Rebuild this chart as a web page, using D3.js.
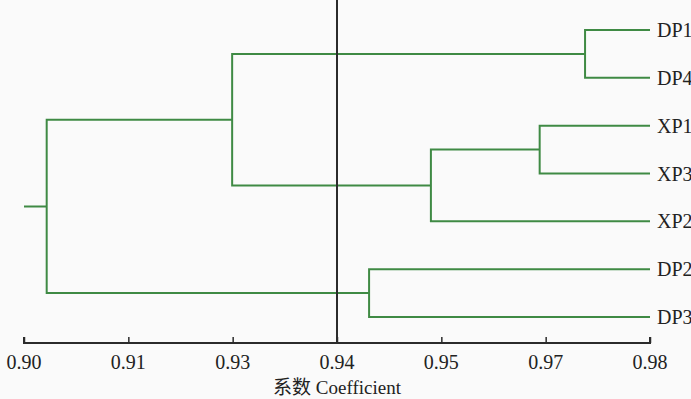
<!DOCTYPE html>
<html>
<head>
<meta charset="utf-8">
<script src="https://cdn.jsdelivr.net/npm/d3@7"></script>
<style>
  html, body { margin: 0; padding: 0; background: #fafafa; }
  svg { display: block; }
  text { font-family: "Liberation Serif", "DejaVu Serif", "Times New Roman", "Noto Sans CJK SC", serif; fill: #222; }
</style>
</head>
<body>
<div class="chart"></div>
<script>
// leaf order top to bottom
const leaves = ['DP1', 'DP4', 'XP1', 'XP3', 'XP2', 'DP2', 'DP3'];
// merges: [left, right, similarity coefficient, name]
const merges = [
  ['DP1', 'DP4', 0.9717, 'a'],
  ['XP1', 'XP3', 0.9659, 'b'],
  ['b', 'XP2', 0.952, 'c'],
  ['a', 'c', 0.9266, 'd'],
  ['DP2', 'DP3', 0.9441, 'e'],
  ['d', 'e', 0.9029, 'root']
];
const tickValues = d3.range(7).map((i) => 0.9 + i * 0.08 / 6);
const cutLine = 0.94;
const axisTitle = '系数 Coefficient';

const width = 691;
const height = 399;
const green = '#3f8a44';
const dark = '#2b2b2b';

const svg = d3
  .select('.chart')
  .append('svg')
  .attr('width', width)
  .attr('height', height);

const x = d3.scaleLinear().domain([0.9, 0.98]).range([24, 650]);
const y = d3.scalePoint().domain(leaves).range([30, 317]);

// build nodes
const nodes = {};
leaves.forEach((l) => { nodes[l] = { name: l, value: 0.98, y: y(l) }; });
merges.forEach(([a, b, v, n]) => {
  nodes[n] = { name: n, value: v, children: [nodes[a], nodes[b]] };
  nodes[n].y = (nodes[a].y + nodes[b].y) / 2;
});

const path = d3.path();
merges.forEach(([a, b, v, n]) => {
  const node = nodes[n];
  node.children.forEach((c) => {
    path.moveTo(x(v), node.y);
    path.lineTo(x(v), c.y);
    path.lineTo(x(c.value), c.y);
  });
});
// root stub
path.moveTo(x(0.9), nodes.root.y);
path.lineTo(x(nodes.root.value), nodes.root.y);

svg.append('path')
  .attr('d', path.toString())
  .attr('fill', 'none')
  .attr('stroke', green)
  .attr('stroke-width', 2);

// cut line
svg.append('line')
  .attr('x1', x(cutLine)).attr('x2', x(cutLine))
  .attr('y1', 0).attr('y2', 343)
  .attr('stroke', dark)
  .attr('stroke-width', 2);

// leaf labels
svg.selectAll('text.leaf')
  .data(leaves)
  .enter()
  .append('text')
  .attr('class', 'leaf')
  .attr('x', 657)
  .attr('y', (d) => y(d) + 7)
  .attr('font-size', '20px')
  .text((d) => d);

// axis
const axis = svg.append('g')
  .attr('transform', 'translate(0,343)')
  .call(d3.axisTop(x).tickValues(tickValues).tickSize(6).tickFormat(() => ''));
axis.select('.domain').attr('stroke', dark).attr('stroke-width', 2).attr('d', `M${x(0.9)},-6V0H${x(0.98)}V-6`);
axis.selectAll('.tick line').attr('stroke', dark).attr('stroke-width', 1.5);

svg.selectAll('text.tick')
  .data(tickValues)
  .enter()
  .append('text')
  .attr('class', 'tick')
  .attr('x', (d) => x(d))
  .attr('y', 369)
  .attr('text-anchor', 'middle')
  .attr('font-size', '20px')
  .text((d) => d3.format('.2f')(d));

svg.append('text')
  .attr('x', x(cutLine))
  .attr('y', 394)
  .attr('text-anchor', 'middle')
  .attr('font-size', '19px')
  .text(axisTitle);
</script>
</body>
</html>
